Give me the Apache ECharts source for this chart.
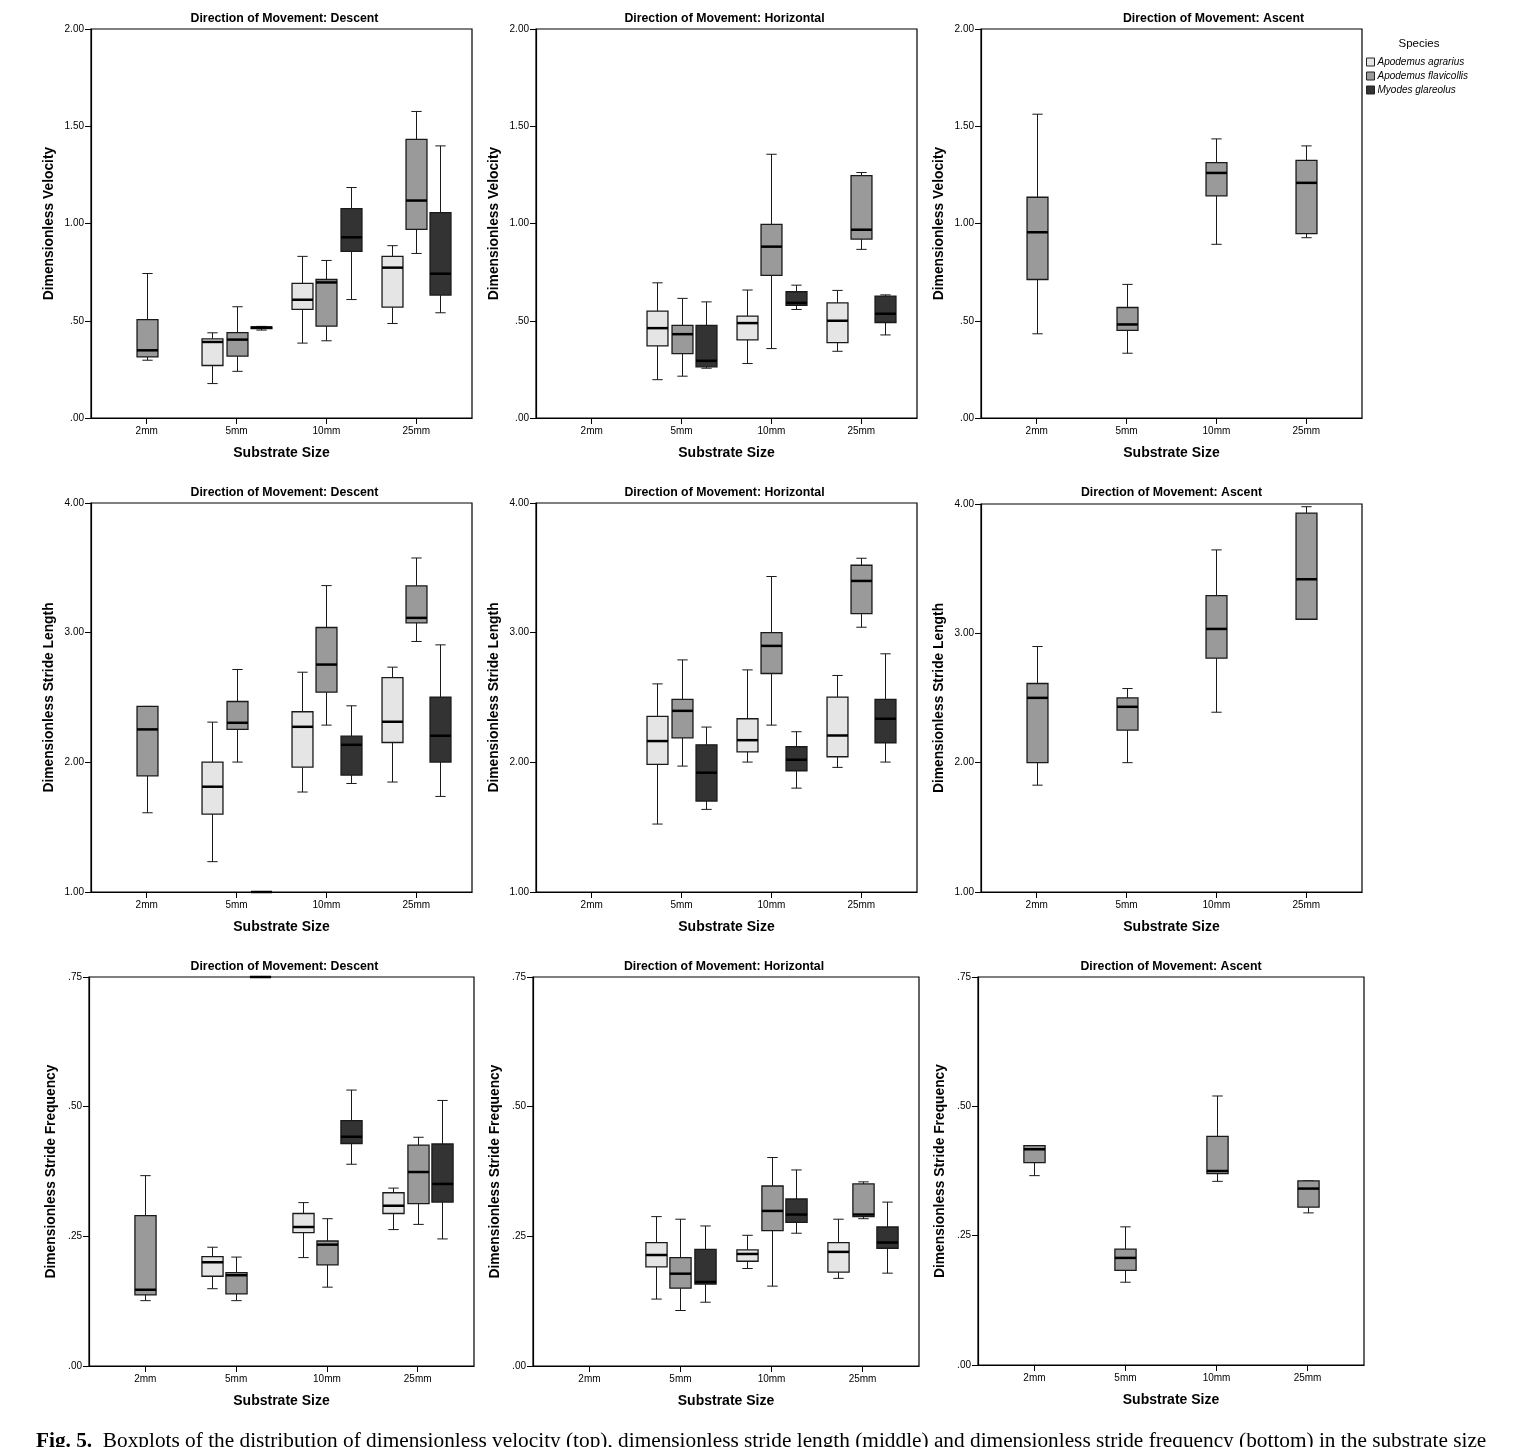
<!DOCTYPE html>
<html>
<head>
<meta charset="utf-8">
<script src="https://cdn.jsdelivr.net/npm/echarts@6/dist/echarts.min.js"></script>
<style>
html,body{margin:0;padding:0;background:#fff;}
#chart{width:1515px;height:1447px;}
</style>
</head>
<body>
<div id="chart"></div>
<script>
// ---------- DATA ----------
const categories = ['2mm', '5mm', '10mm', '25mm'];
const speciesNames = ['Apodemus agrarius', 'Apodemus flavicollis', 'Myodes glareolus'];
const directionTitles = ['Direction of Movement: Descent', 'Direction of Movement: Horizontal', 'Direction of Movement: Ascent'];
const measureNames = ['Dimensionless Velocity', 'Dimensionless Stride Length', 'Dimensionless Stride Frequency'];
const yTickLabelsVelocity = ['.00', '.50', '1.00', '1.50', '2.00'];
const yTickLabelsStride = ['1.00', '2.00', '3.00', '4.00'];
const yTickLabelsFrequency = ['.00', '.25', '.50', '.75'];
const legendTitle = 'Species';
const xAxisTitle = 'Substrate Size';
const captionBold = 'Fig. 5.';
const captionText = '  Boxplots of the distribution of dimensionless velocity (top), dimensionless stride length (middle) and dimensionless stride frequency (bottom) in the substrate size';

// each entry: [min, Q1, median, Q3, max] for 2mm, 5mm, 10mm, 25mm (null = no data)
// Velocity
const velDescentAgrarius    = [null, [0.177,0.270,0.391,0.407,0.438], [0.385,0.558,0.608,0.692,0.831], [0.486,0.570,0.773,0.831,0.886]];
const velDescentFlavicollis = [[0.297,0.314,0.348,0.506,0.743], [0.240,0.318,0.403,0.439,0.572], [0.397,0.472,0.697,0.712,0.810], [0.846,0.970,1.118,1.433,1.576]];
const velDescentGlareolus   = [null, [0.452,0.460,0.465,0.468,0.471], [0.609,0.857,0.929,1.076,1.185], [0.541,0.632,0.742,1.056,1.399]];
const velHorizAgrarius      = [null, [0.197,0.371,0.462,0.549,0.695], [0.280,0.402,0.488,0.524,0.658], [0.343,0.388,0.500,0.592,0.656]];
const velHorizFlavicollis   = [null, [0.215,0.331,0.431,0.476,0.615], [0.357,0.733,0.881,0.996,1.356], [0.867,0.920,0.968,1.246,1.262]];
const velHorizGlareolus     = [null, [0.256,0.263,0.294,0.476,0.597], [0.558,0.579,0.592,0.649,0.683], [0.427,0.491,0.536,0.627,0.633]];
const velAscentFlavicollis  = [[0.433,0.712,0.955,1.135,1.562], [0.333,0.450,0.481,0.568,0.687], [0.893,1.142,1.260,1.313,1.435], [0.927,0.948,1.209,1.325,1.399]];
// Stride length
const strDescentAgrarius    = [null, [1.234,1.601,1.812,2.002,2.310], [1.771,1.963,2.274,2.390,2.695], [1.848,2.153,2.313,2.654,2.734]];
const strDescentFlavicollis = [[1.611,1.896,2.254,2.431,2.431], [2.002,2.254,2.305,2.469,2.716], [2.287,2.541,2.754,3.040,3.363], [2.932,3.076,3.114,3.361,3.576]];
const strDescentGlareolus   = [null, [0.90,0.93,0.95,0.97,0.99], [1.837,1.902,2.135,2.202,2.436], [1.737,2.002,2.205,2.503,2.906]];
const strHorizAgrarius      = [null, [1.524,1.984,2.164,2.354,2.605], [2.002,2.081,2.171,2.336,2.713], [1.961,2.043,2.207,2.503,2.670]];
const strHorizFlavicollis   = [null, [1.971,2.189,2.397,2.485,2.790], [2.287,2.685,2.898,3.001,3.433], [3.042,3.147,3.399,3.520,3.574]];
const strHorizGlareolus     = [null, [1.637,1.701,1.920,2.135,2.272], [1.801,1.935,2.020,2.120,2.236], [2.002,2.151,2.336,2.485,2.837]];
const strAscentFlavicollis  = [[1.826,2.000,2.501,2.612,2.898], [2.000,2.251,2.432,2.501,2.573], [2.390,2.808,3.034,3.292,3.645], [3.109,3.109,3.418,3.930,3.979]];
// Stride frequency
const frqDescentAgrarius    = [null, [0.149,0.173,0.200,0.211,0.229], [0.209,0.257,0.268,0.294,0.315], [0.263,0.294,0.309,0.334,0.343]];
const frqDescentFlavicollis = [[0.126,0.137,0.147,0.290,0.367], [0.126,0.139,0.175,0.180,0.210], [0.152,0.195,0.234,0.241,0.284], [0.273,0.313,0.374,0.426,0.441]];
const frqDescentGlareolus   = [null, [0.76,0.78,0.80,0.82,0.85], [0.389,0.429,0.442,0.473,0.532], [0.245,0.316,0.351,0.428,0.512]];
const frqHorizAgrarius      = [null, [0.129,0.191,0.214,0.238,0.288], [0.188,0.202,0.216,0.224,0.252], [0.169,0.181,0.220,0.238,0.283]];
const frqHorizFlavicollis   = [null, [0.107,0.150,0.178,0.209,0.283], [0.154,0.261,0.299,0.347,0.402], [0.284,0.288,0.292,0.351,0.355]];
const frqHorizGlareolus     = [null, [0.123,0.158,0.162,0.225,0.270], [0.256,0.277,0.292,0.322,0.378], [0.179,0.227,0.238,0.268,0.316]];
const frqAscentFlavicollis  = [[0.366,0.391,0.417,0.424,0.424], [0.160,0.183,0.207,0.224,0.267], [0.355,0.370,0.375,0.442,0.520], [0.294,0.305,0.341,0.356,0.356]];

// ---------- LAYOUT / STYLE ----------
const FILLS = ['#e5e5e5', '#9a9a9a', '#333333'];
const FONT = '"Liberation Sans", Arial, sans-serif';
const BOX_WIDTH = 0.233;     // in category units
const CAP_WIDTH = 0.115;
const BOX_SPACING = 0.268;
const X_MIN = -0.62, X_MAX = 3.62;

const yScales = [
  {min: 0, max: 2, interval: 0.5, labels: yTickLabelsVelocity},
  {min: 1, max: 4, interval: 1, labels: yTickLabelsStride},
  {min: 0, max: 0.75, interval: 0.25, labels: yTickLabelsFrequency}
];
const gridRects = [
  [[91, 29, 381, 389], [536, 29, 381, 389], [981, 29, 381, 389]],
  [[91, 503, 381, 389], [536, 503, 381, 389], [981, 504, 381, 388]],
  [[89, 977, 385, 389], [533, 977, 386, 389], [978, 977, 386, 388]]
];
const titleY = [19, 493, 967];
const titleDx = [[3, -2, 42], [3, -2, 0], [3, -2, 0]];
const yNameGap = [35, 35, 31];

const panelData = [
  [[velDescentAgrarius, velDescentFlavicollis, velDescentGlareolus],
   [velHorizAgrarius, velHorizFlavicollis, velHorizGlareolus],
   [null, velAscentFlavicollis, null]],
  [[strDescentAgrarius, strDescentFlavicollis, strDescentGlareolus],
   [strHorizAgrarius, strHorizFlavicollis, strHorizGlareolus],
   [null, strAscentFlavicollis, null]],
  [[frqDescentAgrarius, frqDescentFlavicollis, frqDescentGlareolus],
   [frqHorizAgrarius, frqHorizFlavicollis, frqHorizGlareolus],
   [null, frqAscentFlavicollis, null]]
];

function makeRenderer(yMin, yMax) {
  return function (params, api) {
    const clamp = v => Math.min(yMax, Math.max(yMin, v));
    const x = api.value(0);
    const lo = clamp(api.value(1)), q1 = clamp(api.value(2)), med = clamp(api.value(3)),
          q3 = clamp(api.value(4)), hi = clamp(api.value(5));
    const pLo = api.coord([x, lo]), pQ1 = api.coord([x, q1]), pMed = api.coord([x, med]),
          pQ3 = api.coord([x, q3]), pHi = api.coord([x, hi]);
    const bw = api.size([BOX_WIDTH, 0])[0];
    const cw = api.size([CAP_WIDTH, 0])[0];
    const cx = Math.round(pMed[0]) + 0.5;
    const fill = api.visual('color');
    const ls = () => ({stroke: '#1a1a1a', lineWidth: 1});
    return {
      type: 'group',
      children: [
        {type: 'line', shape: {x1: cx, y1: pQ3[1], x2: cx, y2: pHi[1]}, style: ls()},
        {type: 'line', shape: {x1: cx, y1: pQ1[1], x2: cx, y2: pLo[1]}, style: ls()},
        {type: 'line', shape: {x1: cx - cw / 2, y1: pHi[1], x2: cx + cw / 2, y2: pHi[1]}, style: ls()},
        {type: 'line', shape: {x1: cx - cw / 2, y1: pLo[1], x2: cx + cw / 2, y2: pLo[1]}, style: ls()},
        {type: 'rect', shape: {x: cx - bw / 2, y: pQ3[1], width: bw, height: pQ1[1] - pQ3[1]},
         style: {fill: fill, stroke: '#1a1a1a', lineWidth: 1.3}},
        {type: 'line', shape: {x1: cx - bw / 2, y1: pMed[1], x2: cx + bw / 2, y2: pMed[1]},
         style: {stroke: '#000', lineWidth: 2.5}}
      ]
    };
  };
}

const grids = [], xAxes = [], yAxes = [], series = [], graphics = [];
let gi = 0;
for (let r = 0; r < 3; r++) {
  for (let c = 0; c < 3; c++) {
    const [L, T, W, H] = gridRects[r][c];
    const ys = yScales[r];
    grids.push({left: L, top: T, width: W, height: H, show: true, borderColor: '#000', borderWidth: 1.2,
                backgroundColor: 'transparent', containLabel: false, outerBoundsMode: 'none'});
    xAxes.push({
      gridIndex: gi, type: 'value', min: X_MIN, max: X_MAX,
      axisLine: {show: true, onZero: false, lineStyle: {color: '#000', width: 1.2}},
      axisTick: {show: true, customValues: [0, 1, 2, 3], length: 6, lineStyle: {color: '#000', width: 1}},
      axisLabel: {show: true, customValues: [0, 1, 2, 3], formatter: v => categories[Math.round(v)],
                  fontSize: 10, fontFamily: FONT, color: '#000', margin: 8},
      splitLine: {show: false},
      name: xAxisTitle, nameLocation: 'middle', nameGap: 28,
      nameTextStyle: {fontSize: 14, fontWeight: 'bold', fontFamily: FONT, color: '#000'}
    });
    yAxes.push({
      gridIndex: gi, type: 'value', min: ys.min, max: ys.max, interval: ys.interval,
      axisLine: {show: true, onZero: false, lineStyle: {color: '#000', width: 1.2}},
      axisTick: {show: true, length: 6, lineStyle: {color: '#000', width: 1}},
      axisLabel: {show: true, formatter: v => ys.labels[Math.round((v - ys.min) / ys.interval)],
                  fontSize: 10, fontFamily: FONT, color: '#000', margin: 7},
      splitLine: {show: false},
      name: measureNames[r], nameLocation: 'middle', nameGap: yNameGap[r],
      nameTextStyle: {fontSize: 13.8, fontWeight: 'bold', fontFamily: FONT, color: '#000'}
    });
    graphics.push({
      type: 'text', x: L + W / 2 + titleDx[r][c], y: titleY[r], silent: true,
      style: {text: directionTitles[c], fontSize: 12.3, fontWeight: 'bold', fontFamily: FONT, fill: '#000',
              align: 'center', verticalAlign: 'middle'}
    });
    const sets = panelData[r][c];
    for (let s = 0; s < 3; s++) {
      if (!sets[s]) continue;
      const items = [];
      for (let k = 0; k < categories.length; k++) {
        if (!sets[s][k]) continue;
        const present = [0, 1, 2].filter(j => sets[j] && sets[j][k]);
        const pos = present.indexOf(s);
        const off = (pos - (present.length - 1) / 2) * BOX_SPACING;
        items.push([k + off].concat(sets[s][k]));
      }
      series.push({
        type: 'custom', name: speciesNames[s], xAxisIndex: gi, yAxisIndex: gi,
        renderItem: makeRenderer(ys.min, ys.max),
        itemStyle: {color: FILLS[s], borderColor: '#1a1a1a', borderWidth: 1},
        encode: {x: 0, y: [1, 2, 3, 4, 5]},
        data: items, clip: false, silent: true
      });
    }
    gi++;
  }
}

graphics.push({
  type: 'text', x: 1419, y: 44, silent: true,
  style: {text: legendTitle, fontSize: 11.5, fontFamily: FONT, fill: '#000', align: 'center', verticalAlign: 'middle'}
});
graphics.push({
  type: 'text', x: 36, y: 1441, silent: true,
  style: {
    text: '{b|' + captionBold + '}' + captionText,
    fontSize: 21.3, fontFamily: '"Liberation Serif", "DejaVu Serif", serif', fill: '#000',
    align: 'left', verticalAlign: 'middle',
    rich: {b: {fontWeight: 'bold', fontSize: 21.3, fontFamily: '"Liberation Serif", serif'}}
  }
});

const chart = echarts.init(document.getElementById('chart'), null, {renderer: 'canvas'});
chart.setOption({
  animation: false,
  backgroundColor: '#fff',
  grid: grids,
  xAxis: xAxes,
  yAxis: yAxes,
  legend: {
    show: true, orient: 'vertical', left: 1366, top: 57, padding: 0,
    itemWidth: 8, itemHeight: 8, itemGap: 4, icon: 'rect', selectedMode: false,
    data: speciesNames,
    itemStyle: {borderColor: '#222', borderWidth: 1},
    textStyle: {fontStyle: 'italic', fontSize: 10, fontFamily: FONT, color: '#000', padding: [0, 0, 0, -2]}
  },
  graphic: graphics,
  series: series
});
</script>
</body>
</html>
